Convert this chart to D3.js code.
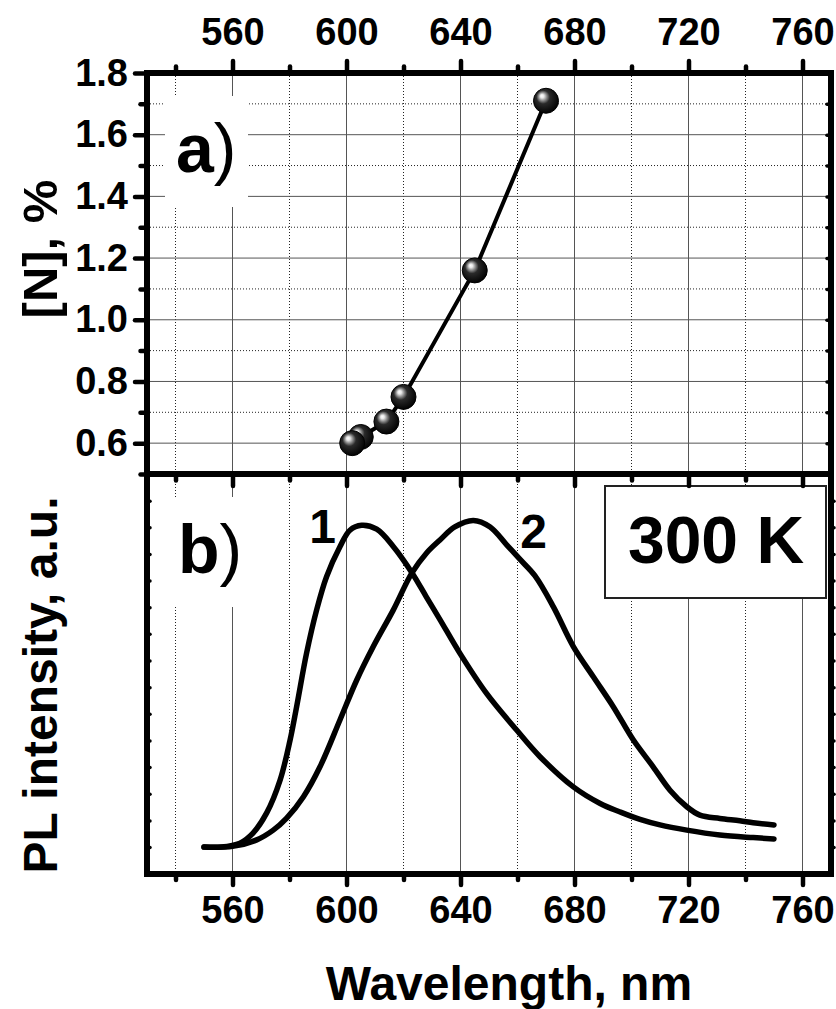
<!DOCTYPE html>
<html><head><meta charset="utf-8">
<script src="https://cdn.jsdelivr.net/npm/d3@7"></script>
<style>
body{margin:0;background:#fff}
svg{display:block}
text{font-family:"Liberation Sans",Arial,Helvetica,sans-serif}
</style>
</head><body>
<svg id="chart" width="836" height="1009"></svg>
<script>
// ---------- data ----------
const xMajorTicks = [560, 600, 640, 680, 720, 760];
const xMinorTicks = [540, 580, 620, 660, 700, 740];
const nMajorTicks = [0.6, 0.8, 1.0, 1.2, 1.4, 1.6, 1.8];
const nMinorTicks = [0.5, 0.7, 0.9, 1.1, 1.3, 1.5, 1.7];

// panel a: nitrogen content vs. PL peak wavelength
const nWavelength = [602, 605, 614, 620, 645, 670];
const nContent    = [0.60, 0.62, 0.67, 0.75, 1.16, 1.71];

// panel b: PL spectra (normalised)
const pl1Wavelength = [550,556,562.6,567.2,572,576.7,580.2,582.5,586,589.5,593,597.7,601.2,605.3,610.6,616.4,622.9,628,632.8,639.8,649.2,659.7,667.9,679.6,689,696,703,710,719.4,731,742.7,750];
const pl1Intensity  = [0,0,0.012,0.043,0.105,0.206,0.329,0.432,0.597,0.729,0.832,0.924,0.975,0.99,0.978,0.925,0.845,0.77,0.70,0.596,0.472,0.36,0.278,0.185,0.134,0.108,0.085,0.068,0.052,0.037,0.029,0.025];
const pl2Wavelength = [550,560,568.5,574.3,579,584.9,590.7,597.7,603.6,609.4,616.4,622.9,628.1,632.8,638,644.5,650.4,656.2,660.9,666.1,672.6,679.6,686.6,693.6,700.6,707.6,713.5,719.4,724,731,738,742.7,750];
const pl2Intensity  = [0,0.002,0.022,0.052,0.089,0.155,0.247,0.391,0.514,0.617,0.729,0.843,0.905,0.945,0.985,1.005,0.985,0.93,0.885,0.835,0.739,0.617,0.524,0.432,0.33,0.247,0.175,0.124,0.098,0.088,0.081,0.075,0.068];
const curveLabels = ["1", "2"];
const plTickStep = 0.082;

// ---------- layout ----------
const L = 147, R = 831, T = 73, M = 474, B = 874;
const svg = d3.select("#chart");
const FONT = '"Liberation Sans",Arial,Helvetica,sans-serif';

const x  = d3.scaleLinear().domain([530, 770]).range([L, R]);
const yN = d3.scaleLinear().domain([0.5, 1.8]).range([M, T]);
const yP = d3.scaleLinear().domain([-0.083, 1.148]).range([B, M]);

// gradient for sphere markers
const defs = svg.append("defs");
const g = defs.append("radialGradient").attr("id", "ball")
  .attr("cx", 0.45).attr("cy", 0.42).attr("r", 0.6).attr("fx", 0.33).attr("fy", 0.3);
[[0, "#ffffff"], [0.12, "#e8e8e8"], [0.28, "#888"], [0.45, "#2a2a2a"], [1, "#000"]]
  .forEach(([o, c]) => g.append("stop").attr("offset", o).attr("stop-color", c));

// ---------- grid ----------
const grid = svg.append("g");
function vgrid(vals, dotted) {
  grid.selectAll(null).data(vals).enter().append("line")
    .attr("x1", d => x(d)).attr("x2", d => x(d)).attr("y1", T).attr("y2", B)
    .attr("stroke", dotted ? "#222" : "#555").attr("stroke-width", 1)
    .attr("stroke-dasharray", dotted ? "1,2" : null);
}
vgrid(xMajorTicks, false);
vgrid(xMinorTicks, true);
grid.selectAll(null).data(nMajorTicks.slice(0, -1)).enter().append("line")
  .attr("x1", L).attr("x2", R).attr("y1", d => yN(d)).attr("y2", d => yN(d))
  .attr("stroke", "#555").attr("stroke-width", 1);
grid.selectAll(null).data(nMinorTicks.slice(1)).enter().append("line")
  .attr("x1", L).attr("x2", R).attr("y1", d => yN(d)).attr("y2", d => yN(d))
  .attr("stroke", "#222").attr("stroke-width", 1).attr("stroke-dasharray", "1,2");

// white backgrounds of panel letters
svg.append("rect").attr("x", 165).attr("y", 96).attr("width", 83).attr("height", 111).attr("fill", "#fff");
svg.append("rect").attr("x", 165).attr("y", 497).attr("width", 83).attr("height", 110).attr("fill", "#fff");

// ---------- panel a ----------
const nPts = nWavelength.map((w, i) => ({w, n: nContent[i]}));
svg.append("path").datum(nPts)
  .attr("d", d3.line().x(d => x(d.w)).y(d => yN(d.n)))
  .attr("fill", "none").attr("stroke", "#000").attr("stroke-width", 4);
svg.append("g").selectAll("circle").data(nPts.slice().reverse()).enter().append("circle")
  .attr("cx", d => x(d.w)).attr("cy", d => yN(d.n)).attr("r", 12.5)
  .attr("fill", "url(#ball)").attr("stroke", "#000").attr("stroke-width", 1);

// ---------- panel b ----------
const line = d3.line().x(d => x(d[0])).y(d => yP(d[1])).curve(d3.curveCatmullRom.alpha(0.5));
[[pl1Wavelength, pl1Intensity], [pl2Wavelength, pl2Intensity]].forEach(([w, v]) => {
  svg.append("path").datum(w.map((d, i) => [d, v[i]]))
    .attr("d", line).attr("fill", "none").attr("stroke", "#000")
    .attr("stroke-width", 5.5).attr("stroke-linejoin", "round").attr("stroke-linecap", "round");
});
svg.append("text").attr("x", 322.5).attr("y", 543).attr("text-anchor", "middle")
  .attr("font-size", 48).attr("font-weight", "bold").text(curveLabels[0]);
svg.append("text").attr("x", 533.5).attr("y", 548).attr("text-anchor", "middle")
  .attr("font-size", 48).attr("font-weight", "bold").text(curveLabels[1]);

// 300 K box
svg.append("rect").attr("x", 605).attr("y", 486).attr("width", 221).attr("height", 112)
  .attr("fill", "#fff").attr("stroke", "#222").attr("stroke-width", 2);
svg.append("text").attr("x", 716).attr("y", 563).attr("text-anchor", "middle")
  .attr("font-size", 66).attr("font-weight", "bold").text("300 K");

// panel letters
function letter(xp, yp, ch) {
  const t = svg.append("text").attr("x", xp).attr("y", yp).attr("font-size", 68);
  t.append("tspan").attr("font-weight", "bold").text(ch);
  t.append("tspan").attr("font-weight", "normal").text(")");
}
letter(176, 172, "a");
letter(178, 573, "b");

// ---------- frame ----------
svg.append("rect").attr("x", L).attr("y", T).attr("width", R - L).attr("height", B - T)
  .attr("fill", "none").attr("stroke", "#000").attr("stroke-width", 6);
svg.append("line").attr("x1", L).attr("x2", R).attr("y1", M).attr("y2", M)
  .attr("stroke", "#000").attr("stroke-width", 6);

// ---------- axes ----------
function styleAxis(sel) {
  sel.select(".domain").remove();
  sel.selectAll(".tick line").attr("stroke", "#000").attr("stroke-width", 4.5).attr("stroke-linecap", "round");
  sel.selectAll(".tick text").attr("font-family", FONT).attr("font-size", 38)
    .attr("font-weight", "bold").attr("fill", "#000");
  return sel;
}
const fmtX = d3.format("d");
// top axis
styleAxis(svg.append("g").attr("transform", `translate(0,${T})`)
  .call(d3.axisTop(x).tickValues(xMajorTicks).tickSize(12).tickPadding(16).tickFormat(fmtX)));
styleAxis(svg.append("g").attr("transform", `translate(0,${T})`)
  .call(d3.axisTop(x).tickValues(xMinorTicks).tickSize(6.5).tickFormat("")));
// middle (inward into panel b)
styleAxis(svg.append("g").attr("transform", `translate(0,${M})`)
  .call(d3.axisBottom(x).tickValues(xMajorTicks).tickSize(12).tickFormat("")));
styleAxis(svg.append("g").attr("transform", `translate(0,${M})`)
  .call(d3.axisBottom(x).tickValues(xMinorTicks).tickSize(6.5).tickFormat("")));
// bottom axis
styleAxis(svg.append("g").attr("transform", `translate(0,${B})`)
  .call(d3.axisBottom(x).tickValues(xMajorTicks).tickSize(11).tickPadding(11).tickFormat(fmtX)));
styleAxis(svg.append("g").attr("transform", `translate(0,${B})`)
  .call(d3.axisBottom(x).tickValues(xMinorTicks).tickSize(6).tickFormat("")));
// left axis panel a
styleAxis(svg.append("g").attr("transform", `translate(${L},0)`)
  .call(d3.axisLeft(yN).tickValues(nMajorTicks).tickSize(12).tickPadding(7).tickFormat(d3.format(".1f"))));
styleAxis(svg.append("g").attr("transform", `translate(${L},0)`)
  .call(d3.axisLeft(yN).tickValues(nMinorTicks).tickSize(6.5).tickFormat("")));
// right axis panel a (small inward)
styleAxis(svg.append("g").attr("transform", `translate(${R},0)`)
  .call(d3.axisLeft(yN).tickValues(nMajorTicks.concat(nMinorTicks)).tickSize(4).tickFormat("")))
  .selectAll(".tick line").attr("stroke-width", 3.5);
// panel b small ticks on left and right
const plTicks = d3.range(0, 1.148, plTickStep);
styleAxis(svg.append("g").attr("transform", `translate(${L},0)`)
  .call(d3.axisRight(yP).tickValues(plTicks).tickSize(3).tickFormat("")))
  .selectAll(".tick line").attr("stroke-width", 3.5);
styleAxis(svg.append("g").attr("transform", `translate(${R},0)`)
  .call(d3.axisRight(yP).tickValues(plTicks).tickSize(3).tickFormat("")))
  .selectAll(".tick line").attr("stroke-width", 3.5);

// ---------- axis titles ----------
svg.append("text").attr("transform", "translate(57,249) rotate(-90)").attr("text-anchor", "middle")
  .attr("font-size", 49).attr("font-weight", "bold").text("[N], %");
svg.append("text").attr("transform", "translate(57,685) rotate(-90)").attr("text-anchor", "middle")
  .attr("font-size", 48).attr("font-weight", "bold").text("PL intensity, a.u.");
svg.append("text").attr("x", 509).attr("y", 1000).attr("text-anchor", "middle")
  .attr("font-size", 48).attr("font-weight", "bold").text("Wavelength, nm");
</script>
</body></html>
